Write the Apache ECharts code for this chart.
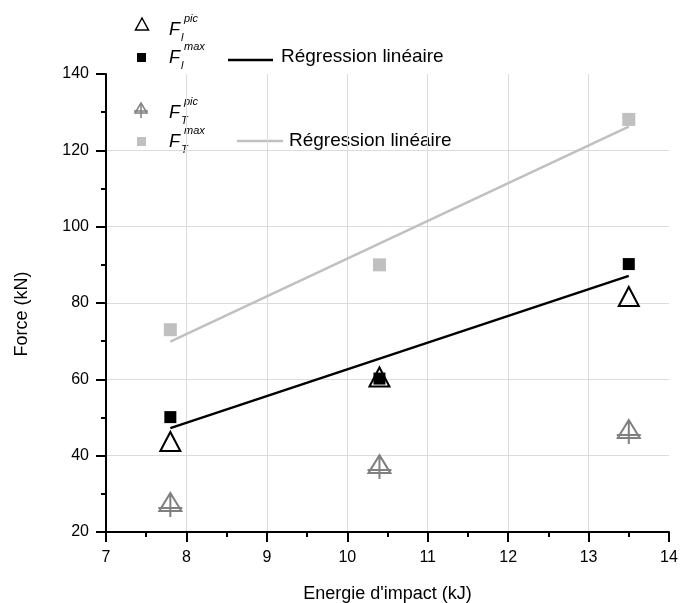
<!DOCTYPE html>
<html>
<head>
<meta charset="utf-8">
<script src="https://cdn.jsdelivr.net/npm/echarts@6/dist/echarts.min.js"></script>
<style>html,body{margin:0;padding:0;background:#fff;}#c{width:681px;height:603px;}</style>
</head>
<body>
<div id="c"></div>
<script>
// ---- data ----
var energy = [7.8, 10.4, 13.5];
var flPic = [43.7, 60.6, 81.7];
var flMax = [50.1, 60.2, 90.2];
var ftPic = [27.1, 37.0, 46.2];
var ftMax = [73.0, 90.0, 128.1];
var regX = [7.8, 13.5];
var regFl = [47.2, 87.1];
var regFt = [69.9, 126.2];
var xTicks = [7, 8, 9, 10, 11, 12, 13, 14];
var yTicks = [20, 40, 60, 80, 100, 120, 140];

function pairs(xs, ys) { return xs.map(function (x, i) { return [x, ys[i]]; }); }

var crossTri = 'path://M12,0 L23,18 L1,18 Z M12,0 L12,24 M0,15 L24,15';
var FONT = 'Liberation Sans, Arial, sans-serif';

var chart = echarts.init(document.getElementById('c'), null, { renderer: 'canvas' });

function fLabel(x, y, sup, sub) {
  return [
    { type: 'text', x: x, y: y, style: { text: 'F', font: 'italic 18px ' + FONT, fill: '#000' } },
    { type: 'text', x: x + 15, y: y - 8, style: { text: sup, font: 'italic 11px ' + FONT, fill: '#000' } },
    { type: 'text', x: x + 12, y: y + 11, style: { text: sub, font: 'italic 11px ' + FONT, fill: '#000' } }
  ];
}

var graphics = [];
// row 1: open triangle
graphics.push({ type: 'polygon', shape: { points: [[142, 18], [148.5, 30], [135.5, 30]] }, style: { fill: 'none', stroke: '#000', lineWidth: 1.5 } });
graphics = graphics.concat(fLabel(169, 21, 'pic', 'l'));
// row 2: black square + regression
graphics.push({ type: 'rect', shape: { x: 137, y: 53, width: 9, height: 9 }, style: { fill: '#000' } });
graphics = graphics.concat(fLabel(169, 49, 'max', 'l'));
graphics.push({ type: 'line', shape: { x1: 228, y1: 60, x2: 273, y2: 60 }, style: { stroke: '#000', lineWidth: 2.5 } });
graphics.push({ type: 'text', x: 281, y: 47, style: { text: 'Régression linéaire', font: '19px ' + FONT, fill: '#000' } });
// row 3: crossed triangle
graphics.push({ type: 'polygon', shape: { points: [[141, 103], [147, 113], [135, 113]] }, style: { fill: 'none', stroke: '#808080', lineWidth: 1.5 } });
graphics.push({ type: 'line', shape: { x1: 141, y1: 103, x2: 141, y2: 118 }, style: { stroke: '#808080', lineWidth: 1.5 } });
graphics.push({ type: 'line', shape: { x1: 134, y1: 111, x2: 148, y2: 111 }, style: { stroke: '#808080', lineWidth: 1.5 } });
graphics = graphics.concat(fLabel(169, 104, 'pic', 'T'));
// row 4: grey square + regression
graphics.push({ type: 'rect', shape: { x: 137, y: 137, width: 9, height: 9 }, style: { fill: '#c0c0c0' } });
graphics = graphics.concat(fLabel(169, 133, 'max', 'T'));
graphics.push({ type: 'line', shape: { x1: 237, y1: 141, x2: 283, y2: 141 }, style: { stroke: '#c0c0c0', lineWidth: 2.5 } });
graphics.push({ type: 'text', x: 289, y: 131, style: { text: 'Régression linéaire', font: '19px ' + FONT, fill: '#000' } });

var option = {
  backgroundColor: '#fff',
  animation: false,
  grid: { left: 106, right: 12, top: 74, bottom: 71, containLabel: false, outerBoundsMode: 'none' },
  xAxis: {
    type: 'value', min: 7, max: 14, interval: 1,
    name: "Energie d'impact (kJ)", nameLocation: 'middle', nameGap: 53,
    nameTextStyle: { fontFamily: FONT, fontSize: 18, color: '#000' },
    axisLine: { show: true, onZero: false, lineStyle: { color: '#000', width: 2 } },
    axisTick: { show: true, length: 10, lineStyle: { color: '#000', width: 2 } },
    minorTick: { show: true, splitNumber: 2, length: 5, lineStyle: { color: '#000', width: 2 } },
    axisLabel: { margin: 18, fontFamily: FONT, fontSize: 16, color: '#000',
      formatter: function (v) { return xTicks.indexOf(v) >= 0 ? String(v) : ''; } },
    splitLine: { show: true, showMaxLine: false, showMinLine: false, lineStyle: { color: '#dcdcdc', width: 1 } }
  },
  yAxis: {
    type: 'value', min: 20, max: 140, interval: 20,
    name: 'Force (kN)', nameLocation: 'middle', nameGap: 75, nameRotate: 90,
    nameTextStyle: { fontFamily: FONT, fontSize: 18, color: '#000', padding: [0, 22, 0, 0] },
    axisLine: { show: true, onZero: false, lineStyle: { color: '#000', width: 2 } },
    axisTick: { show: true, length: 10, lineStyle: { color: '#000', width: 2 } },
    minorTick: { show: true, splitNumber: 2, length: 5, lineStyle: { color: '#000', width: 2 } },
    axisLabel: { margin: 17, fontFamily: FONT, fontSize: 16, color: '#000',
      formatter: function (v) { return yTicks.indexOf(v) >= 0 ? String(v) : ''; } },
    splitLine: { show: true, showMaxLine: false, showMinLine: false, lineStyle: { color: '#dcdcdc', width: 1 } }
  },
  graphic: graphics,
  series: [
    { name: 'Reg T', type: 'line', data: pairs(regX, regFt), symbol: 'none', z: 2,
      lineStyle: { color: '#c0c0c0', width: 2.5 } },
    { name: 'Reg l', type: 'line', data: pairs(regX, regFl), symbol: 'none', z: 2,
      lineStyle: { color: '#000', width: 2.5 } },
    { name: 'FT max', type: 'scatter', data: pairs(energy, ftMax), symbol: 'rect', symbolSize: 13, z: 3,
      itemStyle: { color: '#c0c0c0', opacity: 1 } },
    { name: 'FT pic', type: 'scatter', data: pairs(energy, ftPic), symbol: crossTri, symbolSize: [24, 24], z: 3,
      itemStyle: { color: 'rgba(0,0,0,0)', borderColor: '#808080', borderWidth: 2, opacity: 1 } },
    { name: 'Fl max', type: 'scatter', data: pairs(energy, flMax), symbol: 'rect', symbolSize: 12, z: 3,
      itemStyle: { color: '#000', opacity: 1 } },
    { name: 'Fl pic', type: 'scatter', data: pairs(energy, flPic), symbol: 'triangle', symbolSize: [20, 19], z: 4,
      itemStyle: { color: 'rgba(0,0,0,0)', borderColor: '#000', borderWidth: 2, opacity: 1 } }
  ]
};
chart.setOption(option);
</script>
</body>
</html>
